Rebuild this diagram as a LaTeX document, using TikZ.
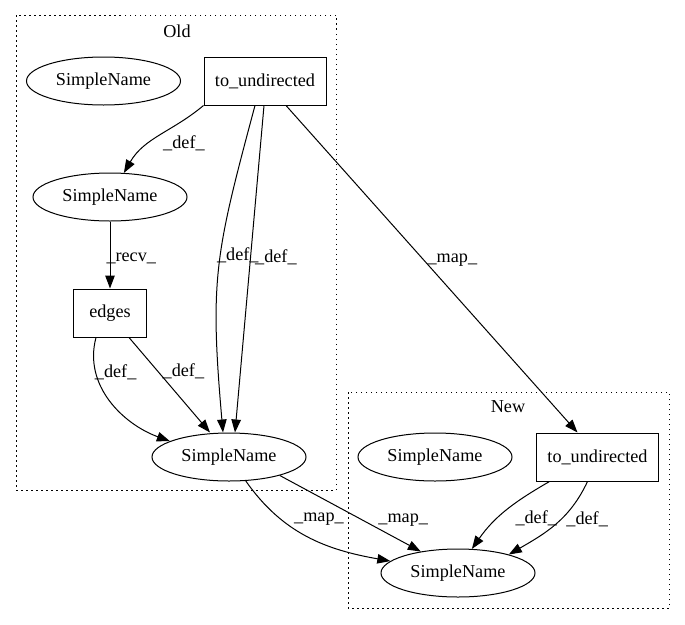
\documentclass[tikz,border=0pt]{standalone}
\usepackage{fontspec}
\setmainfont{Liberation Serif}
\usepackage{tikz}
\usetikzlibrary{arrows.meta,shapes.geometric}

\begin{document}
\begin{tikzpicture}[x=1pt,y=-1pt,font=\fontsize{18.2}{22}\selectfont]
\useasboundingbox (0,0) rectangle (685,624);
\begin{scope}[line width=1pt,dash pattern=on 1.5pt off 3.5pt]
    \draw (16,15) rectangle (336,490);
    \draw (348,392) rectangle (669,608);
\end{scope}
\begin{scope}
    \node (old) at (177,31) {Old};
    \node (new) at (508,407) {New};
\end{scope}
\begin{scope}[every node/.style={draw,line width=1pt,inner sep=0pt,minimum height=48pt}]
    \node[ellipse,minimum width=154pt] (sn1) at (103.5,81) {SimpleName};
    \node[rectangle,minimum width=122pt] (tu1) at (265,81) {to\_undirected};
    \node[ellipse,minimum width=154pt] (sn2) at (110,197) {SimpleName};
    \node[rectangle,minimum width=73pt] (eg) at (110,313) {edges};
    \node[ellipse,minimum width=154pt] (sn3) at (229,457) {SimpleName};
    \node[ellipse,minimum width=154pt] (sn5) at (435,457) {SimpleName};
    \node[rectangle,minimum width=122pt] (tu2) at (597.5,457) {to\_undirected};
    \node[ellipse,minimum width=154pt] (sn6) at (458,573) {SimpleName};
\end{scope}
\begin{scope}[>={Triangle[length=13pt,width=9.5pt]},
              every node/.style={inner sep=1pt},
              every edge/.style={draw,line width=1pt}]
    \path [->] (tu1.south west) edge[out=-140,in=60] node[pos=.45,anchor=west,xshift=-2pt,yshift=-10pt] {\_def\_} (sn2);
    \path [->] ([xshift=-10pt]tu1.south) edge[out=-105,in=95,looseness=1.2] node[pos=.45,anchor=west,xshift=-5pt,yshift=-1pt] {\_def\_} ([xshift=-6pt]sn3.north);
    \path [->] ([xshift=-1pt]tu1.south) edge node[pos=.46,anchor=west,xshift=3pt,yshift=-1pt] {\_def\_} ([xshift=6pt]sn3.north);
    \path [->] ([xshift=21pt]tu1.south) edge node[pos=.46,anchor=west,xshift=6pt,yshift=-4pt] {\_map\_} ([xshift=-20pt]tu2.north);
    \path [->] (sn2) edge node[pos=.5,anchor=west,xshift=-5pt,yshift=-3pt] {\_recv\_} (eg);
    \path [->] ([xshift=-14pt]eg.south) edge[out=-105,in=160] node[pos=.3,anchor=west,xshift=-4pt,yshift=6pt] {\_def\_} (sn3.165);
    \path [->] ([xshift=19pt]eg.south) edge node[pos=.36,anchor=west,xshift=3pt] {\_def\_} ([xshift=-19pt]sn3.north);
    \path [->] (sn3.-55) edge[out=-55,in=170] node[pos=.35,anchor=west,xshift=5pt,yshift=5pt] {\_map\_} (sn6.170);
    \path [->] (sn3.-20) edge node[pos=.54,anchor=west,xshift=21pt,yshift=-4pt] {\_map\_} (sn6.150);
    \path [->] ([xshift=-48pt]tu2.south) edge[out=-150,in=55] node[pos=.45,anchor=west,xshift=4pt,yshift=-11pt] {\_def\_} (sn6.60);
    \path [->] ([xshift=-10pt]tu2.south) edge[out=-115,in=30] node[pos=.45,anchor=west,xshift=6pt,yshift=2pt] {\_def\_} (sn6.20);
\end{scope}
\end{tikzpicture}
\end{document}
